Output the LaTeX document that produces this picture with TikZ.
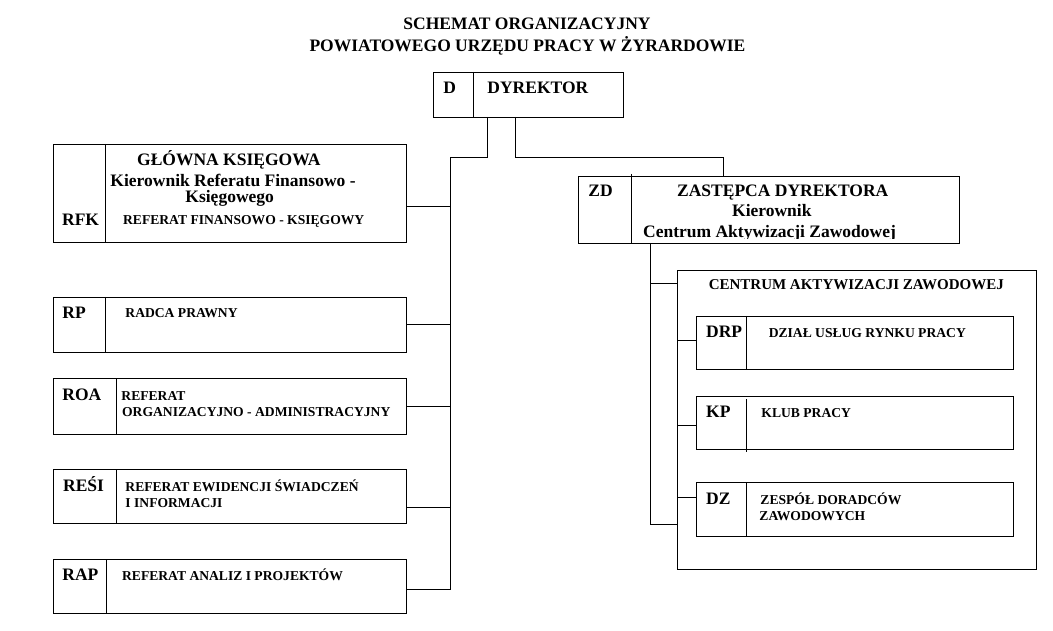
\documentclass[tikz,border=0pt]{standalone}
\usepackage{fontspec}
\setmainfont{Liberation Serif}
\usetikzlibrary{positioning}

\begin{document}
\begin{tikzpicture}[x = 1pt, y = -1pt, font=\bfseries, line width = 0.9pt]
	\tikzstyle{boxStyle} = [draw, anchor = north west, inner sep = 0pt, outer sep = 0pt]
	\tikzstyle{textStyle} = [anchor = base west, inner sep = 0pt]
	\tikzstyle{bigStyle} = [textStyle, font = \bfseries\fontsize{17.5}{20}\selectfont]
	\tikzstyle{smallStyle} = [textStyle, font = \bfseries\fontsize{13.6}{16}\selectfont]
	\tikzstyle{titleStyle} = [anchor = base, inner sep = 0pt, font = \bfseries\fontsize{17.5}{20}\selectfont]
	\useasboundingbox (0,0) rectangle (1053,631);
	% title
	\node[titleStyle] (title1) at (527,29.3) {SCHEMAT ORGANIZACYJNY};
	\node[titleStyle] (title2) at (527.5,51.7) {POWIATOWEGO URZĘDU PRACY W ŻYRARDOWIE};
	% boxes
	\node[boxStyle, minimum width = 190pt, minimum height = 45pt] (d) at (433,72) {};
	\node[boxStyle, minimum width = 353pt, minimum height = 98pt] (rfk) at (53,144) {};
	\node[boxStyle, minimum width = 353pt, minimum height = 55pt] (rp) at (53,297) {};
	\node[boxStyle, minimum width = 353pt, minimum height = 56pt] (roa) at (53,378) {};
	\node[boxStyle, minimum width = 353pt, minimum height = 54pt] (resi) at (53,469) {};
	\node[boxStyle, minimum width = 353pt, minimum height = 54pt] (rap) at (53,559) {};
	\node[boxStyle, minimum width = 381pt, minimum height = 67pt] (zd) at (578,176) {};
	\node[boxStyle, minimum width = 359pt, minimum height = 299pt] (caz) at (677,270) {};
	\node[boxStyle, minimum width = 317pt, minimum height = 53pt] (drp) at (696,316) {};
	\node[boxStyle, minimum width = 317pt, minimum height = 53pt] (kp) at (696,396) {};
	\node[boxStyle, minimum width = 317pt, minimum height = 54pt] (dz) at (696,482) {};
	% dividers
	\draw ([xshift = 40pt]d.north west) -- ([xshift = 40pt]d.south west);
	\draw ([xshift = 52pt]rfk.north west) -- ([xshift = 52pt]rfk.south west);
	\draw ([xshift = 52pt]rp.north west) -- ([xshift = 52pt]rp.south west);
	\draw ([xshift = 63pt]roa.north west) -- ([xshift = 63pt]roa.south west);
	\draw ([xshift = 63pt]resi.north west) -- ([xshift = 63pt]resi.south west);
	\draw ([xshift = 53pt]rap.north west) -- ([xshift = 53pt]rap.south west);
	\draw ([xshift = 53pt, yshift = 2pt]zd.north west) -- ([xshift = 53pt]zd.south west);
	\draw ([xshift = 50pt]drp.north west) -- ([xshift = 50pt]drp.south west);
	\draw ([xshift = 50pt, yshift = -3pt]kp.north west) -- ([xshift = 50pt, yshift = -3pt]kp.south west);
	\draw ([xshift = 50pt]dz.north west) -- ([xshift = 50pt]dz.south west);
	% texts
	\node[bigStyle] (dcode) at (443,94) {D};
	\node[bigStyle] (dname) at (487,94) {DYREKTOR};
	\node[bigStyle] (rfkname1) at (136.7,166) {GŁÓWNA KSIĘGOWA};
	\node[bigStyle] (rfkname2) at (110,186.7) {Kierownik Referatu Finansowo -};
	\node[bigStyle] (rfkname3) at (185,203) {Księgowego};
	\node[bigStyle] (rfkcode) at (61.7,226) {RFK};
	\node[smallStyle] (rfkname4) at (122.7,225) {REFERAT FINANSOWO - KSIĘGOWY};
	\node[bigStyle] (rpcode) at (62,318.3) {RP};
	\node[smallStyle] (rpname) at (125,318) {RADCA PRAWNY};
	\node[bigStyle] (roacode) at (62,400) {ROA};
	\node[smallStyle] (roaname1) at (121,400) {REFERAT};
	\node[smallStyle] (roaname2) at (121.7,416.7) {ORGANIZACYJNO - ADMINISTRACYJNY};
	\node[bigStyle] (resicode) at (62.7,491.7) {REŚI};
	\node[smallStyle] (resiname1) at (125,491) {REFERAT EWIDENCJI ŚWIADCZEŃ};
	\node[smallStyle] (resiname2) at (125,507.7) {I INFORMACJI};
	\node[bigStyle] (rapcode) at (62,580.7) {RAP};
	\node[smallStyle] (rapname) at (121.7,580.7) {REFERAT ANALIZ I PROJEKTÓW};
	\node[bigStyle] (zdcode) at (588,196.7) {ZD};
	\node[bigStyle] (zdname1) at (676.7,196.7) {ZASTĘPCA DYREKTORA};
	\node[bigStyle] (zdname2) at (731.7,216.7) {Kierownik};
	\begin{scope}
		\clip (zd.north west) rectangle ([yshift = 4pt]zd.south east);
		\node[bigStyle] (zdname3) at (642.7,237.3) {Centrum Aktywizacji Zawodowej};
	\end{scope}
	\node[textStyle, font = \bfseries\fontsize{15}{18}\selectfont] (cazname) at (708.3,289.3) {CENTRUM AKTYWIZACJI ZAWODOWEJ};
	\node[bigStyle] (drpcode) at (705.7,337.3) {DRP};
	\node[smallStyle] (drpname) at (768.3,337.3) {DZIAŁ USŁUG RYNKU PRACY};
	\node[bigStyle] (kpcode) at (705.7,417.3) {KP};
	\node[smallStyle] (kpname) at (761,417.3) {KLUB PRACY};
	\node[bigStyle] (dzcode) at (705.7,504) {DZ};
	\node[smallStyle] (dzname1) at (760,504) {ZESPÓŁ DORADCÓW};
	\node[smallStyle] (dzname2) at (759,520.7) {ZAWODOWYCH};
	% connectors
	\coordinate (busTop) at (450,157);
	\coordinate (zdTop) at (723,157);
	\coordinate (zdBus) at (650,524);
	\draw ([xshift = 54pt]d.south west) |- (busTop) -- (busTop |- rap.east);
	\draw ([yshift = -13pt]rfk.east) -| (busTop);
	\draw (rp.east) -| (busTop);
	\draw (roa.east) -| (busTop);
	\draw ([yshift = -11pt]resi.east) -| (busTop);
	\draw ([yshift = -3pt]rap.east) -| (busTop);
	\draw ([xshift = 82pt]d.south west) |- (zdTop) -- (zdTop |- zd.north);
	\draw ([xshift = 72pt]zd.south west) -- (zdBus) -| (caz.west);
	\draw (zdBus) |- ([yshift = -13pt]caz.north west);
	\draw ([yshift = 2pt]drp.west) -| (caz.west);
	\draw ([yshift = -3pt]kp.west) -| (caz.west);
	\draw ([yshift = 12pt]dz.west) -| (caz.west);
\end{tikzpicture}
\end{document}
